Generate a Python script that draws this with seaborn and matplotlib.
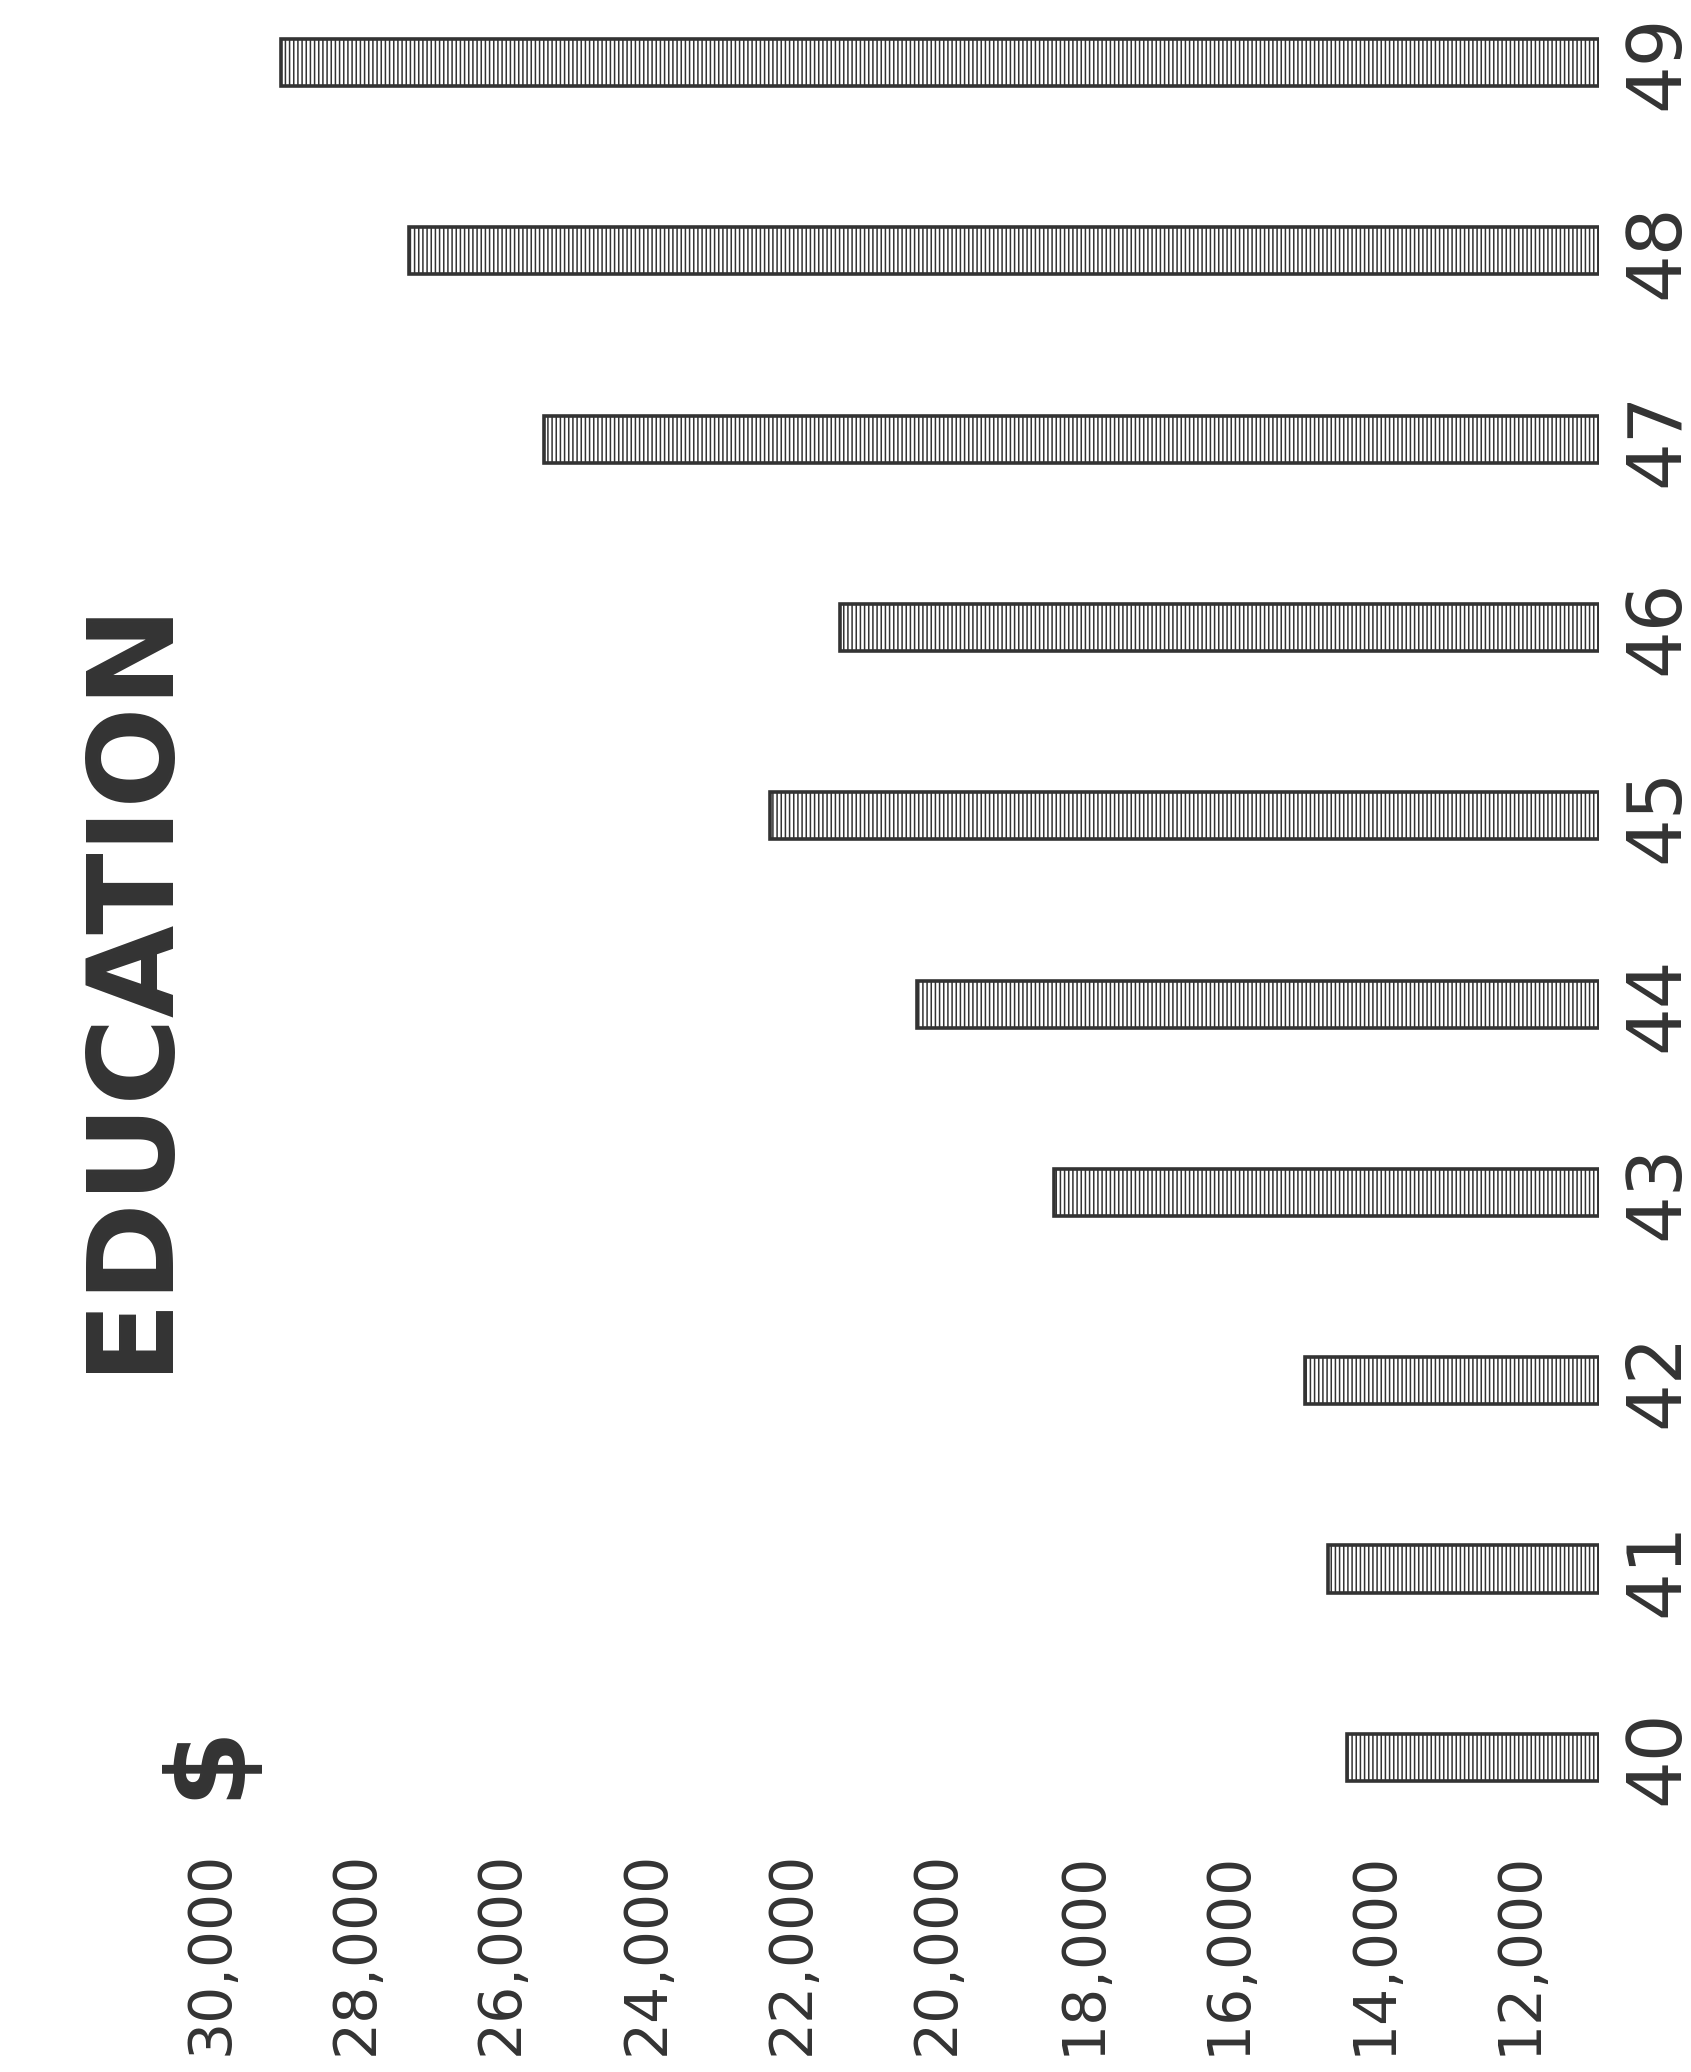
import numpy as np
import pandas as pd
import matplotlib
matplotlib.use("Agg")
import matplotlib.pyplot as plt
import seaborn as sns
from matplotlib.ticker import FixedLocator, FixedFormatter

# === Data (school spending) ===
years = ["40", "41", "42", "43", "44", "45", "46", "47", "48", "49"]
spending = [14370, 14630, 14950, 18400, 20290, 22310, 21350, 25420, 27270, 29040]
tick_values = [12000, 14000, 16000, 18000, 20000, 22000, 24000, 26000, 28000, 30000]
tick_labels = ["12,000", "14,000", "16,000", "18,000", "20,000",
               "22,000", "24,000", "26,000", "28,000", "30,000"]
BASE = 10900   # where the bars start (right edge of the plot)

df = pd.DataFrame({"year": years, "above": [v - BASE for v in spending]})

sns.set_theme(style="white")
plt.rcParams["font.family"] = ["DejaVu Sans"]
plt.rcParams["hatch.linewidth"] = 1.1
ink = "#333333"

fig = plt.figure(figsize=(16.91, 20.72), dpi=100)
ax = fig.add_axes([0.1248, 0.1337, 0.8208, 0.8543])

sns.barplot(data=df, x="above", y="year", order=years[::-1], orient="h",
            color="white", width=0.25, edgecolor=ink, linewidth=2.6,
            hatch="||||", ax=ax)

# value axis runs right-to-left (chart is turned on its side)
ax.set_xlim(30000 - BASE, 0)
ax.set_ylim(9.2, -0.2)
ax.xaxis.set_major_locator(FixedLocator([v - BASE for v in tick_values]))
ax.xaxis.set_major_formatter(FixedFormatter(tick_labels))
ax.yaxis.tick_right()
ax.tick_params(axis="x", labelrotation=90, length=0, pad=40,
               labelsize=42, labelcolor=ink)
ax.tick_params(axis="y", labelrotation=90, length=0, pad=16,
               labelsize=54, labelcolor=ink)
for lab in ax.get_yticklabels():
    lab.set_va("center")
ax.set_xlabel("")
ax.set_ylabel("")
for s in ax.spines.values():
    s.set_visible(False)
ax.grid(False)

# ============ Title and currency mark ============
fig.text(130 / 1691, 1 - 984 / 2072, "EDUCATION", rotation=90,
         ha="center", va="center", fontsize=86, fontweight="bold", color=ink)
fig.text(208 / 1691, 1 - 1760 / 2072, r"\$", rotation=90,
         ha="center", va="center", fontsize=80, fontweight="bold", color=ink)

fig.savefig("out.png", dpi=100, facecolor="white")
